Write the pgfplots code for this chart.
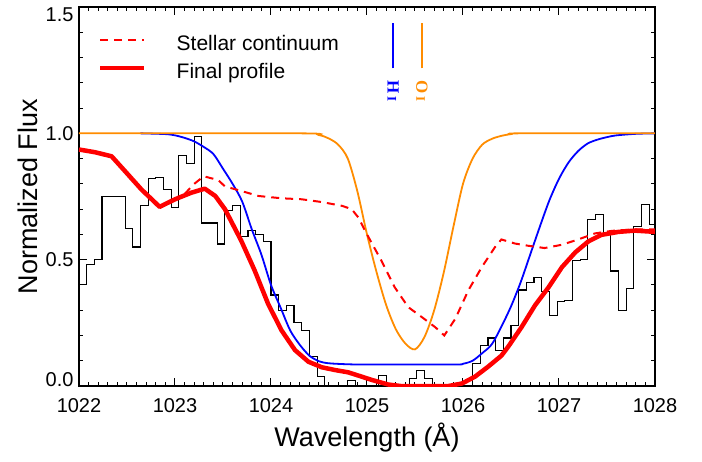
\documentclass[border=0pt]{standalone}
\usepackage{fontspec}
\setmainfont{Liberation Sans}
\newfontfamily\seriff{Liberation Serif}
\usepackage{pgfplots}
\pgfplotsset{compat=1.18}
\definecolor{ired}{RGB}{255,0,0}
\definecolor{iblue}{RGB}{0,0,255}
\definecolor{iorange}{RGB}{255,140,0}
\begin{document}
\begin{tikzpicture}
\begin{axis}[
 name=main,
 scale only axis, width=576pt, height=379pt,
 xmin=1022, xmax=1028, ymin=0, ymax=1.5,
 xtick={1022,1023,1024,1025,1026,1027,1028}, ytick={0,0.5,1,1.5},
 yticklabels={0.0,\raisebox{-7pt}{0.5},\raisebox{-7pt}{1.0},\raisebox{-14pt}{1.5}},
 tick align=inside, major tick length=8pt,
 major tick style={black, line width=1pt},
 axis line style={line width=1.3pt},
 xticklabel style={/pgf/number format/1000 sep={}, yshift=-9pt},
 yticklabel style={anchor=base east, xshift=-2pt},
 /pgf/number format/assume math mode=true,
 tick label style={font=\fontsize{20}{20}\selectfont},
 xlabel={Wavelength (Å)}, ylabel={Normalized Flux},
 label style={font=\fontsize{27}{27}\selectfont},
 xlabel style={at={(axis description cs:0.5,-0.135)}, anchor=center},
 ylabel style={at={(axis description cs:-0.0885,0.5)}, anchor=center},
 legend style={draw=none, fill=none, at={(axis description cs:0,1)}, anchor=north west,
   xshift=19pt, yshift=-28pt, font=\fontsize{21}{21}\selectfont,
   row sep=11pt, column sep=30pt, inner sep=0pt, nodes={inner sep=0pt}},
 legend cell align=left,
 legend image code/.code={\draw[#1] (0pt,0.35em) -- (44pt,0.35em);},
 unbounded coords=jump,
]
% inward tick marks on all four sides (axis decoration)
\pgfplotsinvokeforeach{1022,1023,1024,1025,1026,1027}{
\addplot[black, line width=1pt, forget plot] coordinates {
(#1.1,0)(#1.1,0.0158)(#1.1,nan) (#1.2,0)(#1.2,0.0158)(#1.2,nan)
(#1.3,0)(#1.3,0.0158)(#1.3,nan) (#1.4,0)(#1.4,0.0158)(#1.4,nan)
(#1.5,0)(#1.5,0.0158)(#1.5,nan) (#1.6,0)(#1.6,0.0158)(#1.6,nan)
(#1.7,0)(#1.7,0.0158)(#1.7,nan) (#1.8,0)(#1.8,0.0158)(#1.8,nan)
(#1.9,0)(#1.9,0.0158)(#1.9,nan)
(#1.1,1.5)(#1.1,1.4842)(#1.1,nan) (#1.2,1.5)(#1.2,1.4842)(#1.2,nan)
(#1.3,1.5)(#1.3,1.4842)(#1.3,nan) (#1.4,1.5)(#1.4,1.4842)(#1.4,nan)
(#1.5,1.5)(#1.5,1.4842)(#1.5,nan) (#1.6,1.5)(#1.6,1.4842)(#1.6,nan)
(#1.7,1.5)(#1.7,1.4842)(#1.7,nan) (#1.8,1.5)(#1.8,1.4842)(#1.8,nan)
(#1.9,1.5)(#1.9,1.4842)(#1.9,nan)
};
}
\addplot[black, line width=1pt, forget plot] coordinates {
(1023,0)(1023,0.0317)(1023,nan) (1024,0)(1024,0.0317)(1024,nan)
(1025,0)(1025,0.0317)(1025,nan) (1026,0)(1026,0.0317)(1026,nan)
(1027,0)(1027,0.0317)(1027,nan)
(1023,1.5)(1023,1.4683)(1023,nan) (1024,1.5)(1024,1.4683)(1024,nan)
(1025,1.5)(1025,1.4683)(1025,nan) (1026,1.5)(1026,1.4683)(1026,nan)
(1027,1.5)(1027,1.4683)(1027,nan)
(1022,0.1)(1022.0417,0.1)(1022,nan) (1022,0.2)(1022.0417,0.2)(1022,nan)
(1022,0.3)(1022.0417,0.3)(1022,nan) (1022,0.4)(1022.0417,0.4)(1022,nan)
(1022,0.5)(1022.0833,0.5)(1022,nan) (1022,0.6)(1022.0417,0.6)(1022,nan)
(1022,0.7)(1022.0417,0.7)(1022,nan) (1022,0.8)(1022.0417,0.8)(1022,nan)
(1022,0.9)(1022.0417,0.9)(1022,nan) (1022,1.0)(1022.0833,1.0)(1022,nan)
(1022,1.1)(1022.0417,1.1)(1022,nan) (1022,1.2)(1022.0417,1.2)(1022,nan)
(1022,1.3)(1022.0417,1.3)(1022,nan) (1022,1.4)(1022.0417,1.4)(1022,nan)
(1028,0.1)(1027.9583,0.1)(1028,nan) (1028,0.2)(1027.9583,0.2)(1028,nan)
(1028,0.3)(1027.9583,0.3)(1028,nan) (1028,0.4)(1027.9583,0.4)(1028,nan)
(1028,0.5)(1027.9167,0.5)(1028,nan) (1028,0.6)(1027.9583,0.6)(1028,nan)
(1028,0.7)(1027.9583,0.7)(1028,nan) (1028,0.8)(1027.9583,0.8)(1028,nan)
(1028,0.9)(1027.9583,0.9)(1028,nan) (1028,1.0)(1027.9167,1.0)(1028,nan)
(1028,1.1)(1027.9583,1.1)(1028,nan) (1028,1.2)(1027.9583,1.2)(1028,nan)
(1028,1.3)(1027.9583,1.3)(1028,nan) (1028,1.4)(1027.9583,1.4)(1028,nan)
};
% observed spectrum (histogram)
\addplot[const plot mark left, black, line width=1.1pt, forget plot] coordinates {
(1022.00,0.62) (1022.00,0.40) (1022.08,0.48) (1022.16,0.50) (1022.24,0.75)
(1022.48,0.625) (1022.56,0.55) (1022.64,0.713) (1022.72,0.82) (1022.80,0.824)
(1022.88,0.778) (1022.96,0.706) (1023.04,0.912) (1023.12,0.881) (1023.20,0.986)
(1023.28,0.645) (1023.44,0.562) (1023.52,0.693) (1023.60,0.713) (1023.68,0.592)
(1023.76,0.614) (1023.84,0.60) (1023.92,0.572) (1024.00,0.36) (1024.08,0.30)
(1024.16,0.32) (1024.24,0.25) (1024.32,0.22) (1024.40,0.115) (1024.48,0.037)
(1024.56,0.0) (1024.80,0.02) (1024.88,0.0) (1025.12,0.043) (1025.20,0.0)
(1025.44,0.03) (1025.52,0.06) (1025.60,0.03) (1025.68,0.0) (1026.10,0.09)
(1026.18,0.16) (1026.26,0.19) (1026.34,0.14) (1026.42,0.19) (1026.50,0.24)
(1026.58,0.38) (1026.66,0.41) (1026.74,0.43) (1026.82,0.375) (1026.90,0.28)
(1026.98,0.336) (1027.06,0.34) (1027.14,0.495) (1027.22,0.50) (1027.30,0.66)
(1027.38,0.68) (1027.46,0.605) (1027.54,0.455) (1027.62,0.30) (1027.70,0.385)
(1027.78,0.63) (1027.86,0.72) (1027.94,0.64) (1028.00,0.64)
};
% H I model
\addplot[iblue, line width=1.8pt, smooth, forget plot] coordinates {
(1022.64,1.0) (1022.9,0.997) (1023.0,0.992) (1023.1,0.982) (1023.2,0.968)
(1023.3,0.946) (1023.4,0.918) (1023.5,0.86) (1023.6,0.80) (1023.7,0.73)
(1023.8,0.62) (1023.9,0.52) (1024.0,0.40) (1024.1,0.31) (1024.2,0.22)
(1024.3,0.163) (1024.4,0.12) (1024.5,0.098) (1024.6,0.09) (1024.8,0.086)
(1025.0,0.085) (1025.9,0.085) (1026.0,0.088) (1026.1,0.10) (1026.2,0.13)
(1026.3,0.165) (1026.4,0.235) (1026.5,0.315) (1026.6,0.41) (1026.7,0.52)
(1026.8,0.63) (1026.9,0.735) (1027.0,0.82) (1027.1,0.885) (1027.2,0.93)
(1027.3,0.96) (1027.4,0.975) (1027.5,0.985) (1027.6,0.992) (1027.8,0.998) (1028.0,1.0)
};
% O I model
\addplot[iorange, line width=1.8pt, smooth, forget plot] coordinates {
(1022.0,1.0) (1024.3,1.0) (1024.5,0.993) (1024.6,0.98) (1024.7,0.955)
(1024.8,0.90) (1024.9,0.77) (1025.0,0.60) (1025.1,0.45) (1025.2,0.32)
(1025.3,0.225) (1025.4,0.168) (1025.5,0.145) (1025.6,0.195) (1025.7,0.30)
(1025.8,0.45) (1025.9,0.63) (1026.0,0.80) (1026.1,0.90) (1026.2,0.955)
(1026.3,0.978) (1026.4,0.99) (1026.5,0.997) (1026.6,1.0) (1028.0,1.0)
};
% stellar continuum
\addplot[ired, line width=2pt, dash pattern=on 8pt off 6pt] coordinates {
(1023.10,0.76) (1023.2,0.80) (1023.3,0.83) (1023.45,0.815) (1023.52,0.79)
(1023.69,0.772) (1023.87,0.752) (1024.11,0.743) (1024.32,0.739) (1024.53,0.728)
(1024.74,0.713) (1024.84,0.70) (1024.91,0.667) (1024.98,0.614) (1025.15,0.496)
(1025.29,0.39) (1025.43,0.312) (1025.57,0.273) (1025.71,0.233) (1025.805,0.20)
(1025.92,0.266) (1026.055,0.378) (1026.195,0.47) (1026.33,0.548) (1026.40,0.58)
(1026.54,0.564) (1026.68,0.555) (1026.85,0.546) (1027.03,0.559) (1027.20,0.58)
(1027.375,0.604) (1027.55,0.614) (1027.79,0.62) (1028.0,0.62)
};
\addlegendentry{Stellar continuum}
% final profile
\addplot[ired, line width=4.5pt, line join=round] coordinates {
(1022.0,0.936) (1022.17,0.925) (1022.34,0.909) (1022.48,0.85) (1022.65,0.778)
(1022.84,0.709) (1023.0,0.739) (1023.17,0.765) (1023.31,0.781) (1023.42,0.752)
(1023.52,0.70) (1023.69,0.575) (1023.83,0.457) (1023.97,0.325) (1024.11,0.22)
(1024.25,0.142) (1024.39,0.096) (1024.53,0.074) (1024.67,0.063) (1024.805,0.054)
(1024.945,0.037) (1025.05,0.024) (1025.22,0.006) (1025.35,0.0) (1025.85,0.0)
(1025.99,0.01) (1026.125,0.037) (1026.26,0.076) (1026.40,0.12) (1026.47,0.155)
(1026.61,0.233) (1026.75,0.319) (1026.89,0.39) (1027.03,0.47) (1027.17,0.529)
(1027.305,0.572) (1027.44,0.598) (1027.62,0.61) (1027.79,0.615) (1028.0,0.61)
};
\addlegendentry{Final profile}
% line identifications
\addplot[iblue, line width=1.8pt, forget plot] coordinates {(1025.274,1.257) (1025.274,1.438)};
\addplot[iorange, line width=1.8pt, forget plot] coordinates {(1025.573,1.257) (1025.573,1.438)};
\node[rotate=-90, text=iblue, font=\seriff\bfseries\fontsize{17}{17}\selectfont] at (axis cs:1025.274,1.167) {H\,{\fontsize{13}{13}\selectfont I}};
\node[rotate=-90, text=iorange, font=\seriff\bfseries\fontsize{17}{17}\selectfont] at (axis cs:1025.573,1.167) {O\,{\fontsize{13}{13}\selectfont I}};
\end{axis}
\path (main.south west) ++(-79pt,-75pt) coordinate (bbA);
\path (main.south west) ++(623pt,386pt) coordinate (bbB);
\end{tikzpicture}
\end{document}
